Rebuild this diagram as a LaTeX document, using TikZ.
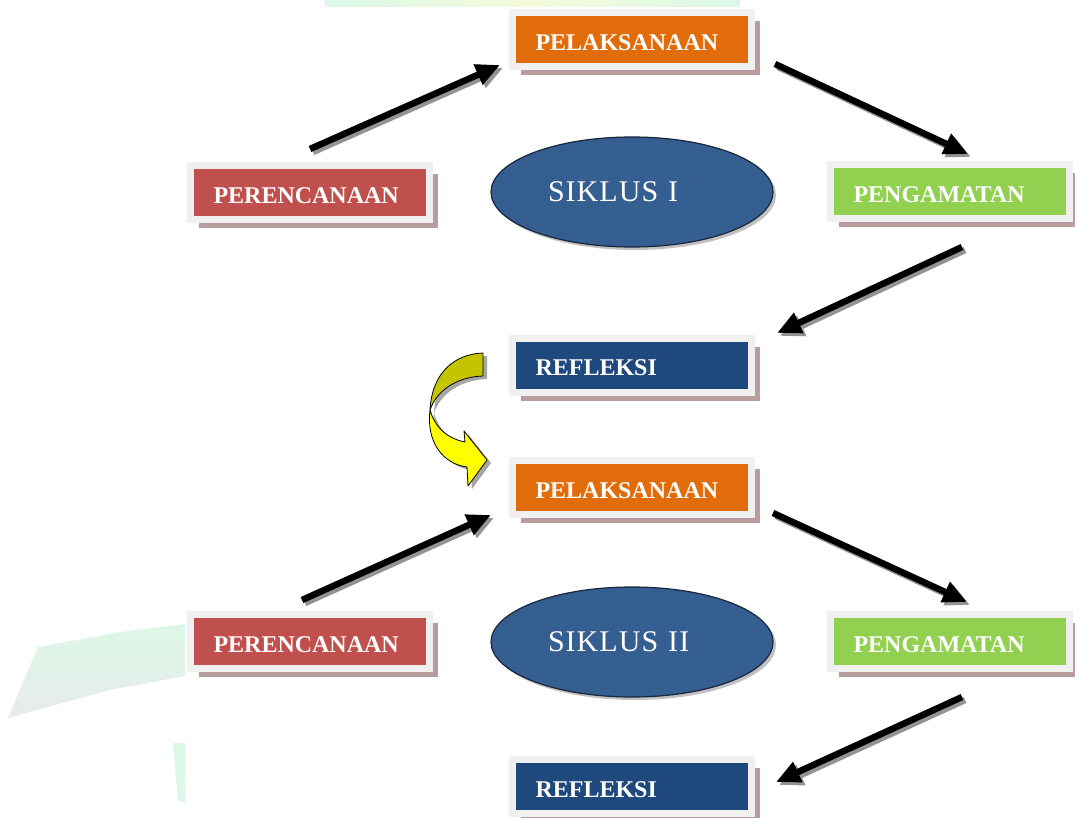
\documentclass[tikz,border=0pt]{standalone}
\usepackage{fontspec}
\setmainfont{Liberation Serif}
\usetikzlibrary{shapes.geometric,shadows,arrows.meta}
\definecolor{orangec}{RGB}{227,108,10}
\definecolor{redc}{RGB}{192,80,77}
\definecolor{greenc}{RGB}{146,208,80}
\definecolor{bluec}{RGB}{31,73,125}
\definecolor{ellc}{RGB}{54,95,145}
\definecolor{ellline}{RGB}{25,38,60}
\definecolor{framec}{RGB}{240,240,240}
\definecolor{shadowc}{RGB}{184,156,158}
\definecolor{olivec}{RGB}{196,196,0}
\definecolor{yel}{RGB}{255,255,0}
\definecolor{mint}{RGB}{220,247,232}
\definecolor{mintyel}{RGB}{244,251,220}
\definecolor{wmgrey}{RGB}{232,235,233}
\newcommand\myarrow[2]{%
  \draw[arrsh] (#1) -- (#2);
  \draw[arr] (#1) -- (#2);}
\begin{document}
\begin{tikzpicture}[x=1pt,y=-1pt,
  box/.style={fill=#1, draw=framec, line width=7pt, minimum width=239pt,
    minimum height=54pt, inner xsep=23pt, inner ysep=0pt, text width=193pt,
    align=left, text=white, text height=22pt,
    font=\bfseries\fontsize{24}{24}\selectfont,
    drop shadow={shadow xshift=8.5pt, shadow yshift=-8.5pt, fill=shadowc, opacity=1}},
  cyc/.style={ellipse, fill=ellc, draw=ellline, line width=1.2pt,
    minimum width=282pt, minimum height=110pt, inner sep=0pt,
    text width=168pt, align=left, text=white,
    font=\fontsize{30}{30}\selectfont\addfontfeature{LetterSpace=3.5},
    drop shadow={shadow xshift=3pt, shadow yshift=-3pt, fill=black!40, opacity=0.6}},
  arr/.style={line width=6.5pt, draw=black, -{Triangle[length=24pt,width=21pt]}},
  arrsh/.style={arr, draw=gray!85, transform canvas={xshift=3pt,yshift=-3pt}},
  curv/.style={draw=black, line width=0.8pt, line join=round}
]
\useasboundingbox (0,0) rectangle (1075,818);
\fill[white] (0,0) rectangle (1075,818);

% faint watermark remnants
\shade[left color=mint, right color=mint, middle color=mintyel] (325,0) rectangle (740,7);
\shade[top color=mint, bottom color=wmgrey] (38,647) -- (120,632) -- (185,624) -- (185,676) -- (110,690) -- (8,718) -- cycle;
\fill[mint] (173,743) -- (185,743) -- (185,803) -- (178,800) -- cycle;

% boxes
\node[box=orangec] (p1) at (632,39.5) {PELAKSANAAN};
\node[box=redc] (r1) at (310,193) {PERENCANAAN};
\node[box=greenc] (g1) at (950,192) {PENGAMATAN};
\node[box=bluec] (f1) at (632,365) {REFLEKSI};
\node[box=orangec] (p2) at (632,487.5) {PELAKSANAAN};
\node[box=redc] (r2) at (310,641.5) {PERENCANAAN};
\node[box=greenc] (g2) at (950,641.5) {PENGAMATAN};
\node[box=bluec] (f2) at (632,786.5) {REFLEKSI};

% cycles
\node[cyc] (e1) at (632,192) {SIKLUS I};
\node[cyc] (e2) at (632,642) {SIKLUS II};

% arrows
\coordinate (a1s) at (310,149); \coordinate (a1e) at (500,65);
\coordinate (a2s) at (775,64);  \coordinate (a2e) at (968,154);
\coordinate (a3s) at (962,247); \coordinate (a3e) at (777,333);
\coordinate (a5s) at (302,600); \coordinate (a5e) at (491,515);
\coordinate (a6s) at (773,513); \coordinate (a6e) at (967,602);
\coordinate (a7s) at (962,697); \coordinate (a7e) at (776,782);
\myarrow{a1s}{a1e}
\myarrow{a2s}{a2e}
\myarrow{a3s}{a3e}
\myarrow{a5s}{a5e}
\myarrow{a6s}{a6e}
\myarrow{a7s}{a7e}

% curved yellow arrow (shadow, back, front)
\begin{scope}[transform canvas={xshift=4pt,yshift=-3pt}]
\fill[gray!70] (483,353) .. controls (455,354) and (432,372) .. (430,410)
  .. controls (436,392) and (455,377) .. (483,376) -- cycle;
\fill[gray!70] (430,410) .. controls (434,425) and (445,438) .. (465,442)
  -- (464,431) -- (487,460) -- (468,486) -- (467,467)
  .. controls (443,464) and (426,442) .. (430,410) -- cycle;
\end{scope}
\filldraw[curv, fill=olivec] (483,353) .. controls (455,354) and (432,372) .. (430,410)
  .. controls (436,392) and (455,377) .. (483,376) -- cycle;
\filldraw[curv, fill=yel] (430,410) .. controls (434,425) and (445,438) .. (465,442)
  -- (464,431) -- (487,460) -- (468,486) -- (467,467)
  .. controls (443,464) and (426,442) .. (430,410) -- cycle;
\end{tikzpicture}
\end{document}
